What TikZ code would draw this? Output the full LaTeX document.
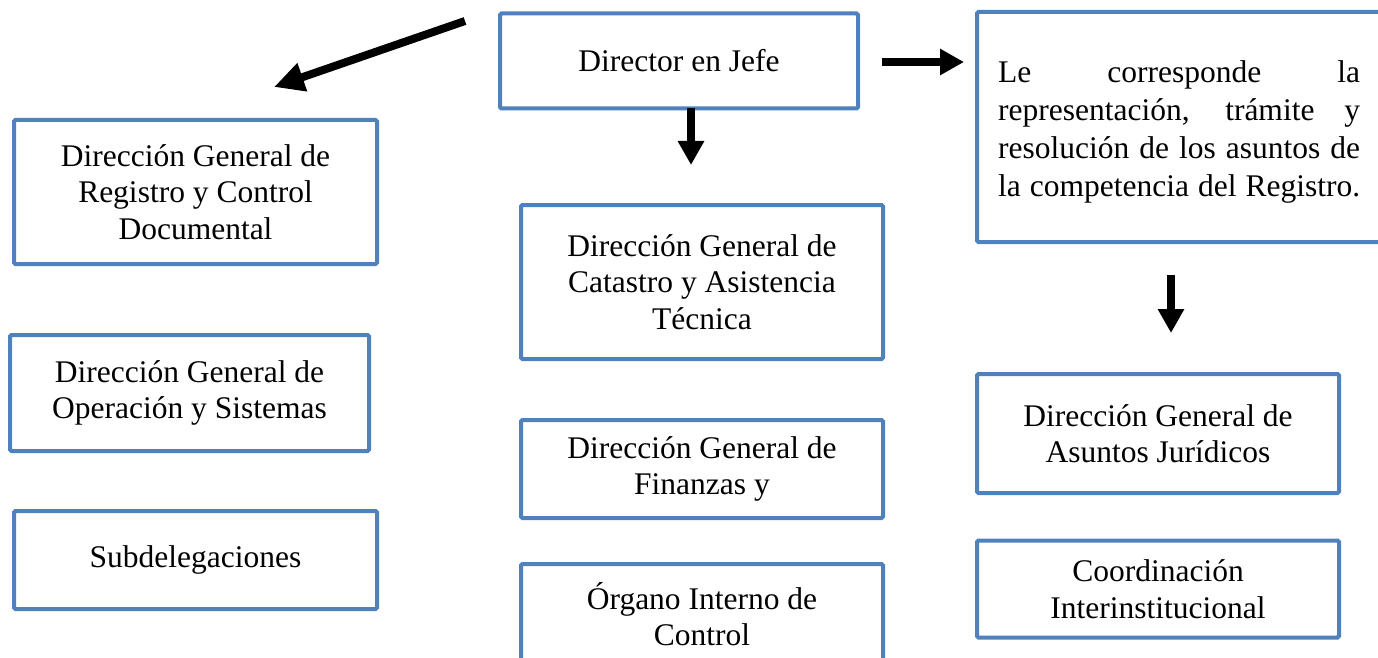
\documentclass[tikz,border=0pt]{standalone}
\usepackage{fontspec}
\setmainfont{Liberation Serif}
\usetikzlibrary{arrows.meta}
\definecolor{boxblue}{HTML}{4F81BD}
\tikzset{
  box/.style={draw=boxblue, line width=4pt, rounded corners=1.5pt, fill=white,
    minimum width=#1, align=center, inner sep=0pt,
    font=\fontsize{31.5}{36.5}\selectfont},
  box/.default=362pt,
  bigarrow/.style={draw=black, line width=8pt,
    -{Triangle[length=24pt,width=25pt]}},
}
\newcommand{\jline}[1]{\makebox[362pt][s]{#1}}
\begin{document}
\begin{tikzpicture}[x=1pt,y=-1pt]
\clip (0,0) rectangle (1378,658);
\fill[white] (0,0) rectangle (1378,658);

% top row
\node[box=358pt, minimum height=95pt] (dir) at (679,61) {Director en Jefe};
\node[draw=boxblue, line width=4pt, rounded corners=1.5pt, minimum width=410pt, minimum height=230pt,
      inner sep=0pt] (txtbox) at (1182,127) {};
\node[anchor=west, align=left, inner sep=0pt,
      font=\fontsize{31.5}{38}\selectfont] (txt) at (998,132)
  {\jline{Le corresponde la}\\
   \jline{representación, trámite y}\\
   \jline{resolución de los asuntos de}\\
   \jline{la competencia del Registro.}};

% left column
\node[box=363pt, minimum height=144pt] (l1) at (195.5,192) {Dirección General de\\Registro y Control\\Documental};
\node[box=359pt, minimum height=116pt] (l2) at (189.5,393) {Dirección General de\\Operación y Sistemas};
\node[box=363pt, minimum height=98pt] (l3) at (195.5,560) {Subdelegaciones};

% middle column
\node[box, minimum height=154pt] (m1) at (702,282) {Dirección General de\\Catastro y Asistencia\\Técnica};
\node[box, minimum height=98pt] (m2) at (702,469) {Dirección General de\\Finanzas y};
\node[box, minimum height=100pt] (m3) at (702,614) {Órgano Interno de\\Control};

% right column
\node[box, minimum height=119pt] (r2) at (1158,433.5) {Dirección General de\\Asuntos Jurídicos};
\node[box, minimum height=97pt] (r3) at (1158,589) {Coordinación\\Interinstitucional};

% arrows
\coordinate (a1s) at (465,21);
\coordinate (a1e) at (274,87);
\coordinate (a2s) at (882,62);
\coordinate (a2e) at (964,62);
\coordinate (a3s) at (691,108);
\coordinate (a3e) at (691,165);
\coordinate (a4s) at (1171,275);
\coordinate (a4e) at (1171,333);
\draw[bigarrow, -{Triangle[length=30pt,width=28pt]}] (a1s) -- (a1e);
\draw[bigarrow] (a2s) -- (a2e);
\draw[bigarrow] (a3s) -- (a3e);
\draw[bigarrow] (a4s) -- (a4e);
\end{tikzpicture}
\end{document}
